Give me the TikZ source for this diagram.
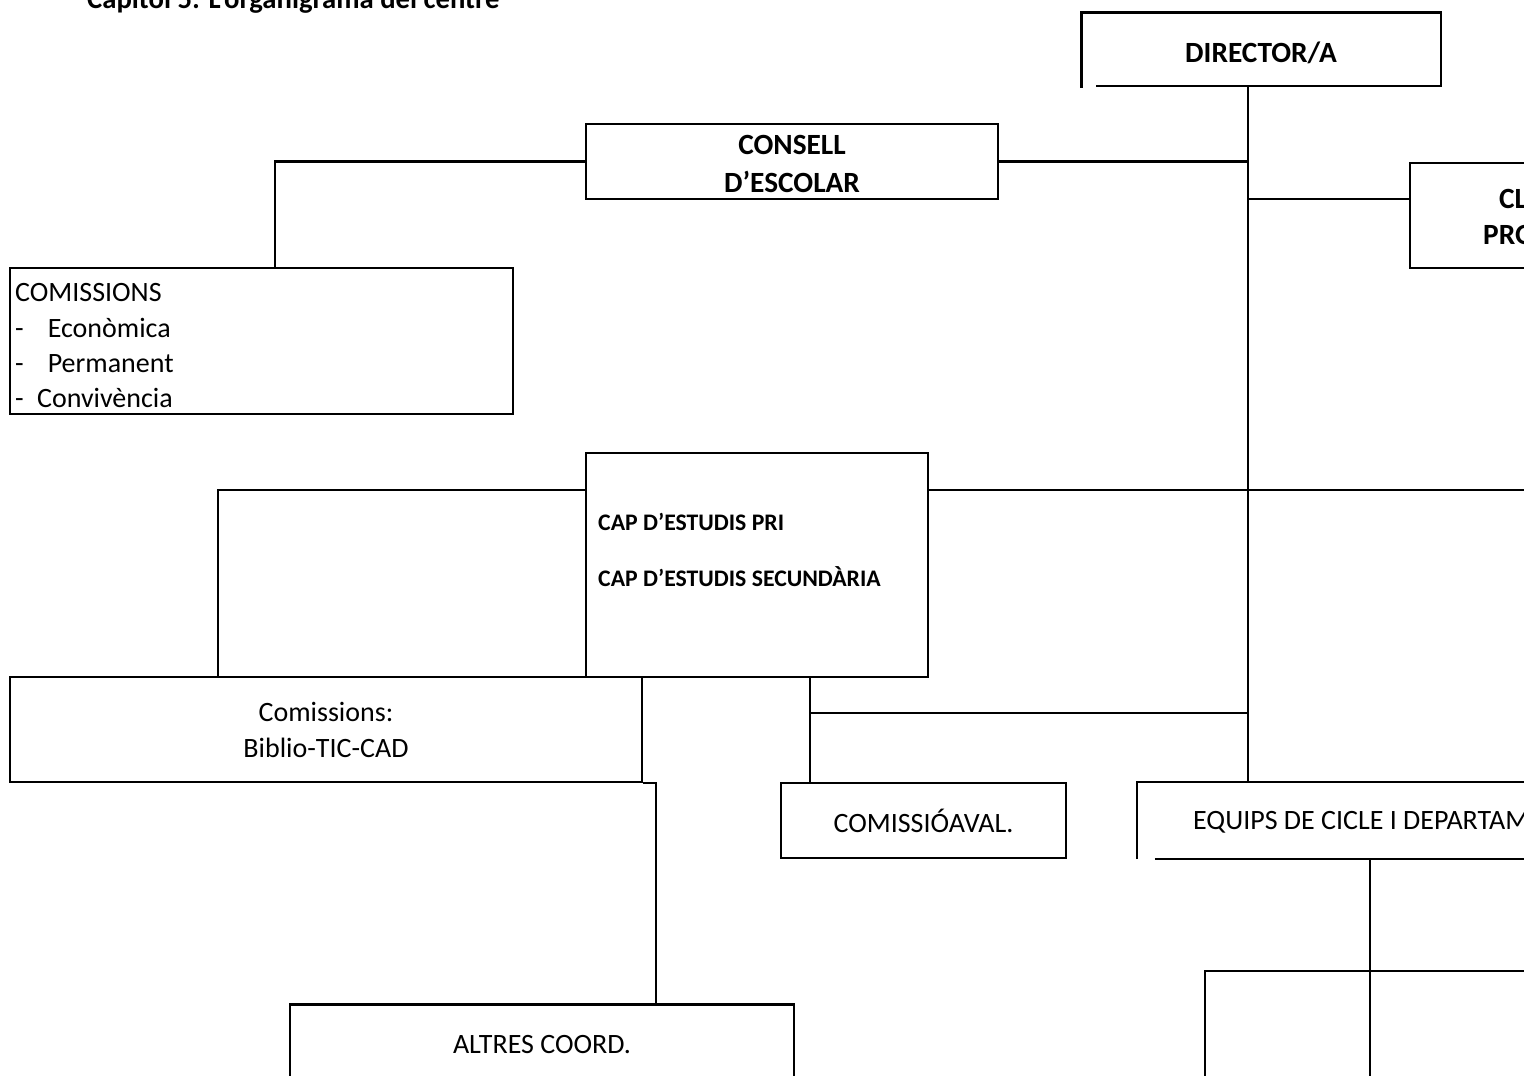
\documentclass[tikz,border=0pt]{standalone}
\usepackage{fontspec}
\setmainfont{Carlito}
\begin{document}
\begin{tikzpicture}[x=0.75pt,y=-0.75pt,line width=1.8pt,
  box/.style={draw,inner sep=0pt,align=center,font=\fontsize{21}{27}\selectfont},
  boldbox/.style={box,font=\fontsize{22}{28.5}\selectfont\bfseries},
  txt/.style={inner sep=0pt,anchor=base west,font=\fontsize{21}{27}\selectfont},
  boldtxt/.style={txt,font=\fontsize{22}{27}\selectfont\bfseries}]
  \useasboundingbox (0,0) rectangle (1524,1075);
  % title, cut by the top of the page
  \node[boldtxt,font=\fontsize{21.5}{26}\selectfont\bfseries] (title) at (86,8) {Capítol 5: L’organigrama del centre};
  % x positions of the lines
  \coordinate (trunk) at (1248,0);
  \coordinate (k1) at (275,160);
  \coordinate (k2) at (1410,199);
  \coordinate (k3) at (218,490);
  \coordinate (k4) at (810,713);
  \coordinate (k5) at (656,0);
  \coordinate (k6) at (1370,0);
  \coordinate (edge) at (1540,490);
  % boxes
  \node[box,draw=none,minimum width=267.75pt,minimum height=53.25pt] (dir) at (1261,49) {};
  \node[boldbox,draw=none] (dirt) at (1261,53) {DIRECTOR/A};
  \node[box,minimum width=309pt,minimum height=56.25pt] (consell) at (792,161.5) {};
  \node[boldbox,draw=none] (consellt) at (792,163.5) {CONSELL\\D’ESCOLAR};
  \node[box,minimum width=217.5pt,minimum height=78.75pt] (cl) at (1555,215.5) {};
  \node[boldtxt] (cl1) at (1498,208) {CL};
  \node[boldtxt] (cl2) at (1482,244) {PRO};
  \node[box,minimum width=377.25pt,minimum height=109.5pt] (comis) at (261.5,341) {};
  \node[box,draw=none,align=left,anchor=west,font=\fontsize{21}{26.5}\selectfont] (comist) at (14,346)
    {COMISSIONS\\-\hspace{18pt}Econòmica\\-\hspace{18pt}Permanent\\-\hspace{10pt}Convivència};
  \node[box,minimum width=256.5pt,minimum height=168pt] (cap) at (757,565) {};
  \node[boldtxt,font=\fontsize{17.8}{20}\selectfont\bfseries] (cap1) at (597,530) {CAP D’ESTUDIS PRI};
  \node[boldtxt,font=\fontsize{17.8}{20}\selectfont\bfseries] (cap2) at (597,586) {CAP D’ESTUDIS SECUNDÀRIA};
  \node[box,minimum width=474pt,minimum height=78.75pt] (biblio) at (326,729.5) {Comissions:\\Biblio-TIC-CAD};
  \node[box,minimum width=213.75pt,minimum height=56.25pt] (aval) at (923.5,820.5) {COMISSIÓAVAL.};
  \node[box,draw=none,minimum width=571.5pt,minimum height=56.25pt] (equips) at (1519,820.5) {};
  \node[txt] (eqtext) at (1192,829) {EQUIPS DE CICLE I DEPARTAM};
  \node[box,minimum width=378pt,minimum height=80pt] (altres) at (542,1058) {};
  \node[box,draw=none] (altrest) at (542,1045) {ALTRES COORD.};
  \node[box,minimum width=442.5pt,minimum height=120pt] (sub) at (1500,1051) {};
  % open sides
  \draw (dir.south west) ++(0,2) -- (dir.north west) -- (dir.north east) -- (dir.south east) -- ++(-345,0);
  \draw (equips.south west) -- (equips.north west) -- (equips.north east);
  \draw (equips.south west) ++(18,0) -- (equips.south east);
  % lines
  \draw (dir.south -| trunk) -- (equips.north -| trunk);
  \draw (consell.east) -- (consell.east -| trunk);
  \draw (consell.west) -| (k1 |- comis.north);
  \draw (trunk |- k2) -- (cl.west |- k2);
  \draw (cap.west |- k3) -| (k3 |- biblio.north);
  \draw (cap.east |- k3) -- (edge);
  \draw (k4 |- cap.south) -- (k4 |- aval.north);
  \draw (k4) -- (k4 -| trunk);
  \draw (biblio.south east) -| (k5 |- altres.north);
  \draw (k6 |- equips.south) -- (k6 |- sub.south);
\end{tikzpicture}
\end{document}
